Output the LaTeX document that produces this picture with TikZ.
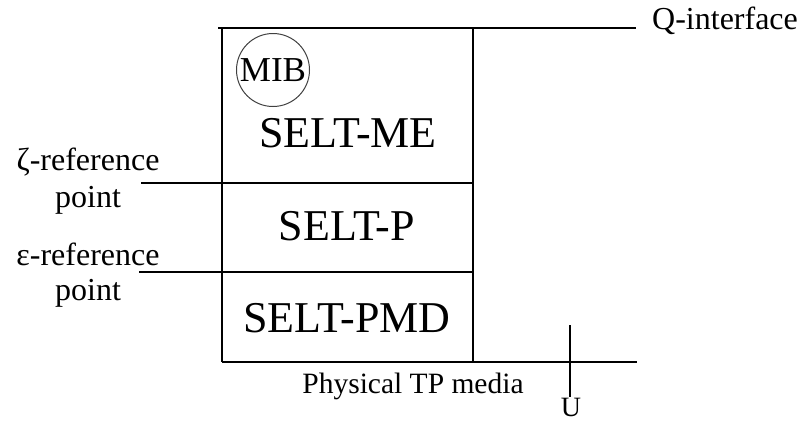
\documentclass[tikz,border=0pt]{standalone}
\usepackage{fontspec}
\setmainfont{Liberation Serif}
\begin{document}
\begin{tikzpicture}[x=1pt,y=-1pt,
  boxline/.style={line width=2pt},
  thickline/.style={line width=2.6pt},
  thinline/.style={line width=1.4pt},
  big/.style={font=\fontsize{44}{50}\selectfont, inner sep=0pt},
  lab/.style={font=\fontsize{32}{36}\selectfont, inner sep=0pt, align=center}]
\useasboundingbox (0,0) rectangle (808,421);
% box corners
\coordinate (TL) at (222,28);
\coordinate (TR) at (473,28);
\coordinate (BL) at (222,362);
\coordinate (BR) at (473,362);
\coordinate (D1L) at (222,183);
\coordinate (D1R) at (473,183);
\coordinate (D2L) at (222,272);
\coordinate (D2R) at (473,272);
\coordinate (TLx) at (218,28);
\coordinate (Qend) at (636,28);
\coordinate (Zend) at (141,183);
\coordinate (Eend) at (139,272);
\coordinate (Bend) at (637,362);
\coordinate (Utop) at (570,325);
\coordinate (Ubot) at (570,397);
% box
\draw[boxline] (TL) -- (BL);
\draw[boxline] (TR) -- (BR);
\draw[thickline] (TLx) -- (TR);
\draw[thinline] (TR) -- (Qend);
\draw[thickline] (D1L) -- (D1R);
\draw[thinline] (Zend) -- (D1L);
\draw[boxline] (Eend) -- (D2R);
\draw[thickline] (BL) -- (BR);
\draw[thinline] (BR) -- (Bend);
\draw[thinline] (Utop) -- (Ubot);
% MIB
\node[draw=black!75, line width=1pt, circle, minimum size=73pt, inner sep=0pt] (mibc) at (273,70) {};
\node[font=\fontsize{35}{38}\selectfont, inner sep=0pt] (mib) at (273,70) {MIB};
% layer texts
\node[big] (me) at (348,133) {SELT-ME};
\node[big] (p) at (347,226) {SELT-P};
\node[big] (pmd) at (347,318) {SELT-PMD};
% labels
\node[lab, anchor=west] (q) at (652,21) {Q-interface};
\node[lab] (zeta) at (88,162) {ζ-reference};
\node[lab] (zetap) at (88,200) {point};
\node[lab] (eps) at (88,254) {ε-reference};
\node[lab] (epsp) at (88,293) {point};
\node[font=\fontsize{29.5}{32}\selectfont, inner sep=0pt] (phys) at (413,386) {Physical TP media};
\node[font=\fontsize{28}{32}\selectfont, inner sep=0pt] (u) at (571,407) {U};
\end{tikzpicture}
\end{document}
